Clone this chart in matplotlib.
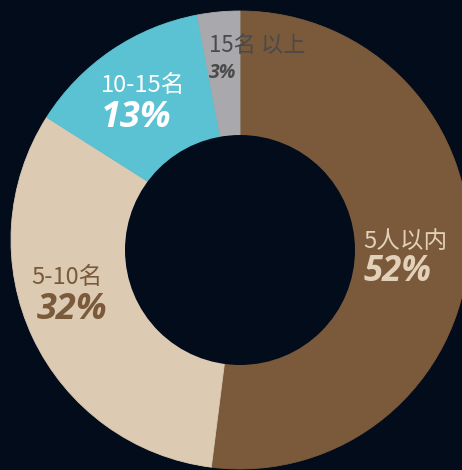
import matplotlib
matplotlib.use("Agg")
import matplotlib.pyplot as plt
from matplotlib.patches import Circle

plt.rcParams['font.family'] = ['Noto Sans CJK SC', 'DejaVu Sans']

categories = ["5人以内", "5-10名", "10-15名", "15名 以上"]
values = [52, 32, 13, 3]
pct_labels = ["52%", "32%", "13%", "3%"]
colors = ["#7a5a3a", "#dccab2", "#5bc2d3", "#a9a9ad"]
text_colors = ["#e2d1b8", "#7a5a3a", "#ffffff", "#4a4a4a"]

BG = "#030c1b"
W, H = 462, 470

fig = plt.figure(figsize=(W / 100, H / 100), dpi=100, facecolor=BG)
ax = fig.add_axes([0, 0, 1, 1])
ax.set_facecolor(BG)

cx, cy, r = 240, H - 240, 229
ax.pie(values, colors=colors, startangle=90, counterclock=False,
       center=(cx, cy), radius=r, frame=True,
       wedgeprops=dict(linewidth=0.6, edgecolor=None))
for w, c in zip(ax.patches, colors):
    w.set_edgecolor(c)
ax.add_patch(Circle((240, H - 250), 115, facecolor=BG, edgecolor='none', zorder=5))

ax.set_xlim(0, W)
ax.set_ylim(0, H)
ax.set_aspect('auto')
ax.axis('off')

# label positions (pixel coords from top-left)
name_pos = [(405, 241), (67, 278), (143, 85), (257, 46)]
pct_pos = [(398, 272), (72, 310), (136, 118), (223, 73)]
name_sizes = [17, 17, 17, 16]
pct_sizes = [25, 26, 26, 14]

for i in range(len(categories)):
    nx, ny = name_pos[i]
    ax.text(nx, H - ny, categories[i], color=text_colors[i], fontsize=name_sizes[i],
            ha='center', va='center', zorder=10)
    px, py = pct_pos[i]
    ax.text(px, H - py, pct_labels[i], color=text_colors[i], fontsize=pct_sizes[i],
            ha='center', va='center', fontweight='bold', fontstyle='italic',
            family=['Open Sans', 'DejaVu Sans'], zorder=10)

fig.savefig("out.png", dpi=100, facecolor=BG)
